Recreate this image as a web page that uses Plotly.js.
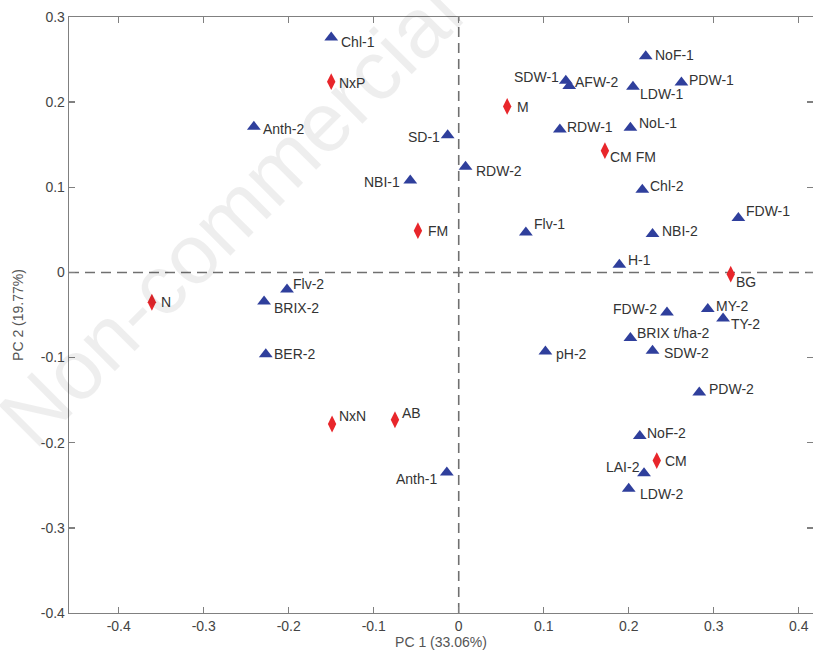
<!DOCTYPE html>
<html>
<head>
<meta charset="utf-8">
<script src="https://cdn.plot.ly/plotly-3.0.1.min.js"></script>
<style>html,body{margin:0;padding:0;background:#fff;}#chart{width:813px;height:653px;}</style>
</head>
<body>
<div id="chart"></div>
<script>
// Variable loadings (blue triangles)
const varLabels = ["Chl-1","Anth-2","SD-1","NBI-1","RDW-2","NoF-1","SDW-1","AFW-2","LDW-1","PDW-1",
  "RDW-1","NoL-1","Chl-2","FDW-1","Flv-1","NBI-2","H-1","FDW-2","MY-2","TY-2",
  "BRIX t/ha-2","SDW-2","PDW-2","NoF-2","LAI-2","LDW-2","pH-2","Anth-1","Flv-2","BRIX-2","BER-2"];
const varPC1 = [-0.150,-0.241,-0.013,-0.057,0.008,0.220,0.126,0.130,0.205,0.262,
  0.119,0.202,0.216,0.329,0.079,0.228,0.189,0.245,0.293,0.311,
  0.202,0.228,0.283,0.213,0.218,0.200,0.102,-0.014,-0.202,-0.229,-0.227];
const varPC2 = [0.276,0.171,0.161,0.108,0.124,0.254,0.225,0.219,0.218,0.223,
  0.168,0.170,0.097,0.064,0.047,0.045,0.009,-0.047,-0.043,-0.054,
  -0.077,-0.092,-0.141,-0.192,-0.236,-0.254,-0.093,-0.235,-0.020,-0.034,-0.096];

// Treatment scores (red diamonds)
const trtLabels = ["NxP","M","CM FM","FM","BG","N","NxN","AB","CM"];
const trtPC1 = [-0.150,0.057,0.172,-0.048,0.320,-0.361,-0.149,-0.075,0.233];
const trtPC2 = [0.224,0.195,0.143,0.049,-0.002,-0.035,-0.178,-0.173,-0.221];

// Label placement (pixel offsets from the marker; negative dx = label on the left; dy down)
const varDx = [10,9,-8,-10,10,9,-7,6,7,8, 7,9,8,8,8,9,9,-10,8,8, 7,11,10,7,-4,11,11,-10,6,10,8];
const varDy = [5,2,2,2,4,-1,-4,-4,7,-3, -2,-5,-4,-7,-8,-3,-5,-3,-3,6, -5,2,-3,-3,-6,5,2,6,-5,7,0];
const trtDx = [8,10,5,10,5,9,7,7,8];
const trtDy = [1,1,6,0,8,0,-8,-7,0];

const xRange = [-0.4585, 0.4168];
const yRange = [-0.4, 0.3];
const FONT = "Liberation Sans, Arial, sans-serif";
const labelFont = {family: FONT, size: 14, color: "#333333"};

const traces = [
  {
    type: "scatter", mode: "markers",
    x: varPC1, y: varPC2, text: varLabels,
    marker: {symbol: "triangle-up", size: 12, color: "#2f3f9c"},
    hoverinfo: "text", showlegend: false
  },
  {
    type: "scatter", mode: "markers",
    x: trtPC1, y: trtPC2, text: trtLabels,
    marker: {symbol: "diamond-tall", size: 12, color: "#e8262b"},
    hoverinfo: "text", showlegend: false
  }
];

function makeLabels(labels, xs, ys, dxs, dys) {
  return labels.map((t, i) => ({
    text: t, x: xs[i], y: ys[i], xref: "x", yref: "y",
    showarrow: false, font: labelFont, borderpad: 0,
    xanchor: dxs[i] < 0 ? "right" : "left", yanchor: "middle",
    xshift: dxs[i] < 0 ? dxs[i] + 1 : dxs[i] - 1, yshift: -dys[i]
  }));
}

const axisCommon = {
  showgrid: false, zeroline: false,
  showline: true, linecolor: "#808080", linewidth: 1.3,
  mirror: "ticks", ticks: "inside", ticklen: 6, tickwidth: 1.3, tickcolor: "#808080",
  tickfont: {family: FONT, size: 14, color: "#444444"},
  fixedrange: true
};

const annotations = [
  {text: "Non-commercial", xref: "paper", yref: "paper",
   x: (230 - 69) / 744, y: (613 - 215) / 596, xanchor: "center", yanchor: "middle",
   showarrow: false, textangle: -45,
   font: {family: FONT, size: 84, color: "rgba(0,0,0,0.065)"}}
].concat(makeLabels(varLabels, varPC1, varPC2, varDx, varDy))
 .concat(makeLabels(trtLabels, trtPC1, trtPC2, trtDx, trtDy));

const layout = {
  width: 813, height: 653,
  margin: {l: 69, r: 0, t: 17, b: 40},
  paper_bgcolor: "#ffffff", plot_bgcolor: "#ffffff",
  xaxis: Object.assign({}, axisCommon, {
    range: xRange,
    tickvals: [-0.4,-0.3,-0.2,-0.1,0,0.1,0.2,0.3,0.4],
    ticktext: ["-0.4","-0.3","-0.2","-0.1","0","0.1","0.2","0.3","0.4"],
    title: {text: "PC 1 (33.06%)", font: {family: FONT, size: 14, color: "#555555"}, standoff: 2}
  }),
  yaxis: Object.assign({}, axisCommon, {
    range: yRange,
    tickvals: [-0.4,-0.3,-0.2,-0.1,0,0.1,0.2,0.3],
    ticktext: ["-0.4","-0.3","-0.2","-0.1","0","0.1","0.2","0.3"],
    title: {text: "PC 2 (19.77%)", font: {family: FONT, size: 14, color: "#555555"}, standoff: 14}
  }),
  shapes: [
    {type: "line", xref: "x", yref: "y", x0: 0, x1: 0, y0: yRange[0], y1: yRange[1],
     line: {color: "#707070", width: 1.6, dash: "10px,6px"}, layer: "below"},
    {type: "line", xref: "x", yref: "y", x0: xRange[0], x1: xRange[1], y0: 0, y1: 0,
     line: {color: "#707070", width: 1.6, dash: "10px,6px"}, layer: "below"}
  ],
  annotations: annotations
};

Plotly.newPlot("chart", traces, layout, {displayModeBar: false, staticPlot: true});
</script>
</body>
</html>
